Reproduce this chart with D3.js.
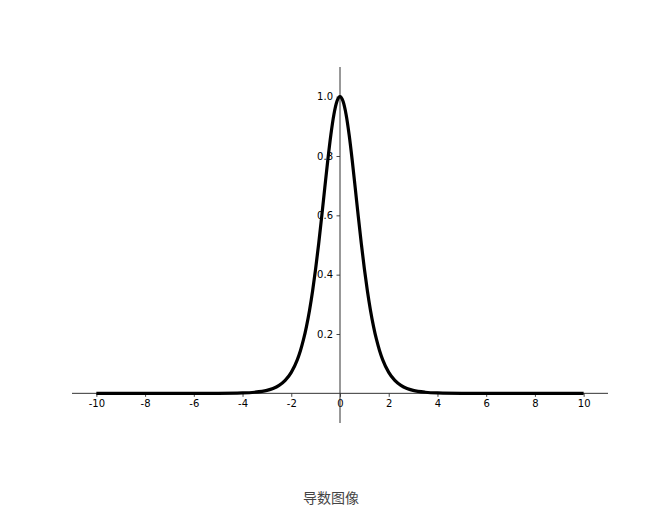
<!DOCTYPE html>
<html><head><meta charset="utf-8">
<script src="https://cdn.jsdelivr.net/npm/d3@7"></script>
<style>body{margin:0;background:#fff}</style>
</head><body>
<svg id="c" width="672" height="516"></svg>
<script>
const xValues = [-10,-8,-6,-5,-4,-3.5,-3,-2.75,-2.5,-2.25,-2,-1.75,-1.625,-1.5,-1.375,-1.25,-1.125,-1,-0.875,-0.75,-0.625,-0.5,-0.375,-0.25,-0.125,0,
  0.125,0.25,0.375,0.5,0.625,0.75,0.875,1,1.125,1.25,1.375,1.5,1.625,1.75,2,2.25,2.5,2.75,3,3.5,4,5,6,8,10];
const yValues = [0,0,0.00002,0.00018,0.00134,0.00364,0.0099,0.0162,0.0266,0.0435,0.0707,0.1138,0.1437,0.1807,0.2259,0.2804,0.3450,0.4200,0.5044,0.5966,0.6924,0.7864,0.8716,0.9400,0.9845,1.0,
  0.9845,0.9400,0.8716,0.7864,0.6924,0.5966,0.5044,0.4200,0.3450,0.2804,0.2259,0.1807,0.1437,0.1138,0.0707,0.0435,0.0266,0.0162,0.0099,0.00364,0.00134,0.00018,0.00002,0,0];
const xTicks = [-10,-8,-6,-4,-2,0,2,4,6,8,10];
const yTicks = [0.2,0.4,0.6,0.8,1.0];
const title = "导数图像";

const svg = d3.select("#c");
const x = d3.scaleLinear().domain([-11,11]).range([72,608]);
const y = d3.scaleLinear().domain([-0.1,1.1]).range([423,67]);

const xAxis = d3.axisBottom(x).tickValues(xTicks).tickSize(3.5).tickPadding(3.5)
  .tickFormat(d => String(d));
const gx = svg.append("g").attr("transform",`translate(0,${y(0)})`).call(xAxis);
const yAxis = d3.axisLeft(y).tickValues(yTicks).tickSize(3.5).tickPadding(3.5)
  .tickFormat(d3.format(".1f"));
const gy = svg.append("g").attr("transform",`translate(${x(0)},0)`).call(yAxis);
[gx,gy].forEach(g=>{
  g.select(".domain").remove();
  g.selectAll(".tick line").attr("stroke","#333").attr("stroke-width",0.9);
  g.selectAll(".tick text").attr("fill","#000").style("font-family","DejaVu Sans").style("font-size","10px");
});
svg.append("line").attr("x1",x.range()[0]).attr("x2",x.range()[1]).attr("y1",y(0)).attr("y2",y(0))
  .attr("stroke","#333").attr("stroke-width",1);
svg.append("line").attr("x1",x(0)).attr("x2",x(0)).attr("y1",y.range()[0]).attr("y2",y.range()[1])
  .attr("stroke","#333").attr("stroke-width",1);

const data = xValues.map((v,i)=>[v,yValues[i]]);
const line = d3.line().x(d=>x(d[0])).y(d=>y(d[1])).curve(d3.curveMonotoneX);
svg.append("path").datum(data).attr("d",line).attr("fill","none")
  .attr("stroke","#000").attr("stroke-width",3.2).attr("stroke-linejoin","round");

svg.append("text").attr("x",331).attr("y",503).attr("text-anchor","middle")
  .style("font-family","Noto Sans CJK SC").style("font-size","14px").attr("fill","#444").text(title);
</script>
</body></html>
